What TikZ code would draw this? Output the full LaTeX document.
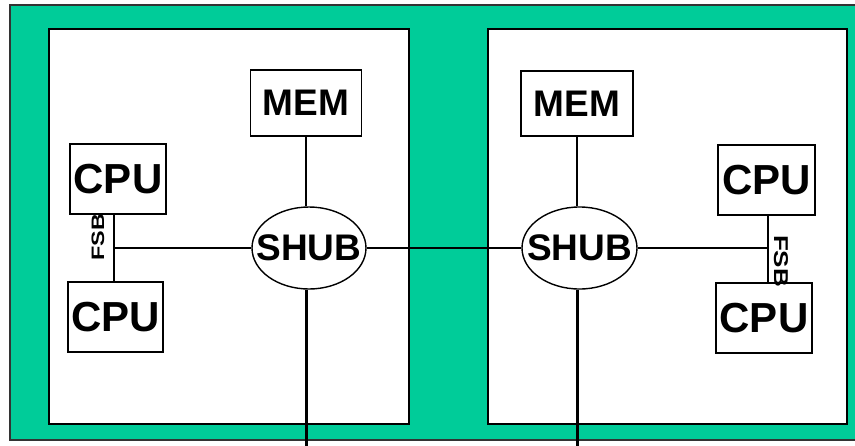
\documentclass[tikz,border=0pt]{standalone}
\usepackage{fontspec}
\setmainfont{Liberation Sans}
\usetikzlibrary{shapes.geometric}
\definecolor{boardgreen}{RGB}{0,204,153}

\begin{document}
\begin{tikzpicture}
			[x=1pt,y=-1pt,every node/.style={rectangle,
			draw=black, line width=1.2pt,
			fill=white, inner sep=0pt, font=\bfseries}]
			\useasboundingbox (0,0) rectangle (855,445);

			%%placa e nos
			\fill[boardgreen] (10,5) rectangle (870,440);
			\draw[line width=1.3pt, black!80] (870,5) -- (10,5) -- (10,440) -- (870,440);
			\draw[line width=2pt, fill=white] (49,29) rectangle (409,424);
			\draw[line width=2pt, fill=white] (488,29) rectangle (847,424);

			\node[minimum width=111, minimum height=66, font=\fontsize{37}{37}\bfseries]
				(mem1) at (306,103) {MEM};
			\node[minimum width=96, minimum height=70, font=\fontsize{42}{42}\bfseries]
				(cpua1) at (118,179) {CPU};
			\node[minimum width=95, minimum height=70, font=\fontsize{42}{42}\bfseries]
				(cpub1) at (115.5,317) {CPU};
			\node[ellipse, minimum width=114, minimum height=82, line width=1.4pt,
				font=\fontsize{37}{37}\bfseries]
				(shub1) at (309,248) {\makebox[0pt]{SHUB}};

			\node[minimum width=112, minimum height=65, font=\fontsize{37}{37}\bfseries]
				(mem2) at (577,103.5) {MEM};
			\node[minimum width=97, minimum height=70, font=\fontsize{42}{42}\bfseries]
				(cpua2) at (766.5,180) {CPU};
			\node[minimum width=96, minimum height=70, font=\fontsize{42}{42}\bfseries]
				(cpub2) at (764,318) {CPU};
			\node[ellipse, minimum width=115, minimum height=82, line width=1.4pt,
				font=\fontsize{37}{37}\bfseries]
				(shub2) at (579.5,248) {\makebox[0pt]{SHUB}};

			%%barramentos
			\coordinate (bus1) at (114,248);
			\coordinate (bus2) at (768,248);
			\coordinate (out1) at (306,450);
			\coordinate (out2) at (577,450);

			\node [draw=none, fill=none, rotate=90, font=\fontsize{18}{18}\bfseries]
				(fsb1) at (98,237) {\scalebox{1.3}[1]{FSB}};
			\node [draw=none, fill=none, rotate=-90, font=\fontsize{20}{20}\bfseries]
				(fsb2) at (781,261) {\scalebox{1.3}[1]{FSB}};

			\foreach \from/\to in {cpua1.south -| bus1/cpub1.north -| bus1,
			cpua2.south -| bus2/cpub2.north -| bus2,
			bus1/shub1.west,bus2/shub2.east,
			mem1.south/shub1.north -| mem1,mem2.south/shub2.north -| mem2,
			shub1.east/shub2.west}%%%%
			\draw[line width=1.1pt] (\from) -- (\to);

			\foreach \from/\to in {shub1.south -| out1/out1,shub2.south -| out2/out2}
			\draw[line width=3pt] (\from) -- (\to);
		\end{tikzpicture}
\end{document}
